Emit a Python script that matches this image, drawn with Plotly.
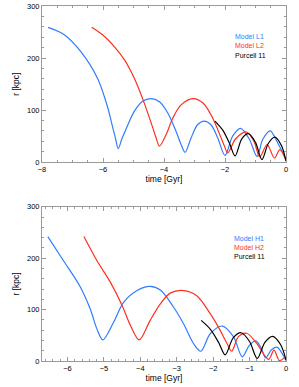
import plotly.graph_objects as go

# ---------------- data ----------------
# Top panel
l1_t = [-7.80, -7.27, -6.72, -6.17, -5.85, -5.72, -5.60, -5.50, -5.38, -5.25, -4.97,
        -4.70, -4.43, -4.15, -3.88, -3.61, -3.44, -3.31, -3.11, -2.90, -2.68, -2.46,
        -2.24, -2.00, -1.75, -1.49, -1.20, -0.95, -0.76, -0.52, -0.27, 0.0]
l1_r = [259, 245, 212, 160, 106, 76, 48, 26, 45, 63, 98,
        117, 122, 116, 95, 60, 34, 19, 47, 72, 79, 72,
        47, 13, 50, 65, 44, 11, 44, 60, 37, 5]

l2_t = [-6.37, -5.96, -5.63, -5.30, -5.08, -4.86, -4.65, -4.43, -4.26, -4.15, -3.93,
        -3.71, -3.44, -3.06, -2.73, -2.46, -2.24, -2.02, -1.91, -1.65, -1.30, -1.05,
        -0.86, -0.62, -0.38, -0.20, 0.0]
l2_r = [259, 242, 222, 197, 174, 146, 114, 77, 47, 31, 53,
        85, 110, 122, 114, 91, 63, 31, 18, 45, 58, 40,
        10, 34, 8, 24, 3]

# Purcell 11 (same in both panels)
p11_t = [-2.33, -2.08, -1.85, -1.67, -1.45, -1.23, -1.00, -0.79, -0.58, -0.37, -0.15, 0.0]
p11_r = [79, 62, 36, 12, 45, 55, 38, 5, 36, 48, 32, 2]

# Bottom panel
h1_t = [-6.54, -6.10, -5.64, -5.37, -5.19, -5.03, -4.73, -4.46, -4.09, -3.73, -3.45,
        -3.09, -2.81, -2.54, -2.34, -2.08, -1.75, -1.44, -1.20, -1.01, -0.83, -0.68,
        -0.56, -0.40, -0.25, 0.0]
h1_r = [242, 194, 143, 100, 62, 41, 76, 114, 137, 145, 138,
        105, 72, 34, 19, 53, 68, 47, 8, 30, 39, 25,
        6, 22, 27, 1]

h2_t = [-5.55, -5.19, -4.82, -4.50, -4.27, -4.03, -3.73, -3.45, -3.18, -2.81, -2.45,
        -2.08, -1.81, -1.62, -1.49, -1.31, -1.08, -0.80, -0.48, -0.33, -0.18, -0.03]
h2_r = [242, 195, 153, 108, 69, 41, 79, 111, 132, 137, 127,
        92, 60, 34, 19, 47, 54, 34, 3, 21, 1, 7]

top_labels = ["Model L1", "Model L2", "Purcell 11"]
bot_labels = ["Model H1", "Model H2", "Purcell 11"]

BLUE = "#2f7dff"
RED = "#ff2f1f"
BLACK = "#000000"
FONT = "Liberation Sans, Arial, sans-serif"

fig = go.Figure()

def add(t, r, color, xa, ya):
    fig.add_trace(go.Scatter(x=t, y=r, mode="lines", xaxis=xa, yaxis=ya,
                             line=dict(color=color, width=1.2, shape="spline", smoothing=0.9),
                             showlegend=False, hoverinfo="skip"))

add(l1_t, l1_r, BLUE, "x", "y")
add(l2_t, l2_r, RED, "x", "y")
add(p11_t, p11_r, BLACK, "x", "y")
add(h1_t, h1_r, BLUE, "x2", "y2")
add(h2_t, h2_r, RED, "x2", "y2")
add(p11_t, p11_r, BLACK, "x2", "y2")

AX = "#9a9a9a"

def xax(rng, dtick, mdtick, domain, anchor):
    return dict(range=rng, dtick=dtick, tick0=0, domain=domain, anchor=anchor,
                showline=True, linecolor=AX, linewidth=1, mirror="allticks",
                ticks="inside", ticklen=4, tickcolor=AX, tickwidth=1,
                minor=dict(ticks="inside", ticklen=2, tickcolor=AX, dtick=mdtick, tick0=0),
                showgrid=False, zeroline=False,
                tickfont=dict(size=7.5, color="black", family=FONT),
                title=dict(text="time [Gyr]", font=dict(size=8.5, color="black", family=FONT),
                           standoff=1))

def yax(domain, anchor):
    return dict(range=[0, 300], dtick=100, tick0=0, domain=domain, anchor=anchor,
                showline=True, linecolor=AX, linewidth=1, mirror="allticks",
                ticks="inside", ticklen=4, tickcolor=AX, tickwidth=1,
                minor=dict(ticks="inside", ticklen=2, tickcolor=AX, dtick=20, tick0=0),
                showgrid=False, zeroline=False,
                tickfont=dict(size=7.5, color="black", family=FONT),
                title=dict(text="r [kpc]", font=dict(size=8.5, color="black", family=FONT),
                           standoff=6))

fig.update_layout(
    width=299, height=387,
    margin=dict(l=42, r=13, t=2, b=26),
    paper_bgcolor="white", plot_bgcolor="white",
    xaxis=xax([-8, 0], 2, 0.5, [0, 1], "y"),
    yaxis=yax([0.56, 1.0], "x"),
    xaxis2=xax([-6.7, 0], 1, 0.2, [0, 1], "y2"),
    yaxis2=yax([0.0, 0.4345], "x2"),
)

cols = [BLUE, RED, BLACK]
top_y = [0.805, 0.745, 0.685]
bot_y = [0.797, 0.737, 0.677]
for lab, c, yy in zip(top_labels, cols, top_y):
    fig.add_annotation(text=lab, xref="x domain", yref="y domain", x=0.782, y=yy,
                       xanchor="left", yanchor="middle", showarrow=False,
                       font=dict(size=7, color=c, family=FONT))
for lab, c, yy in zip(bot_labels, cols, bot_y):
    fig.add_annotation(text=lab, xref="x2 domain", yref="y2 domain", x=0.777, y=yy,
                       xanchor="left", yanchor="middle", showarrow=False,
                       font=dict(size=7, color=c, family=FONT))

fig.write_html("out.html", config={"displayModeBar": False},
               post_script="document.body.style.margin='0px';")
